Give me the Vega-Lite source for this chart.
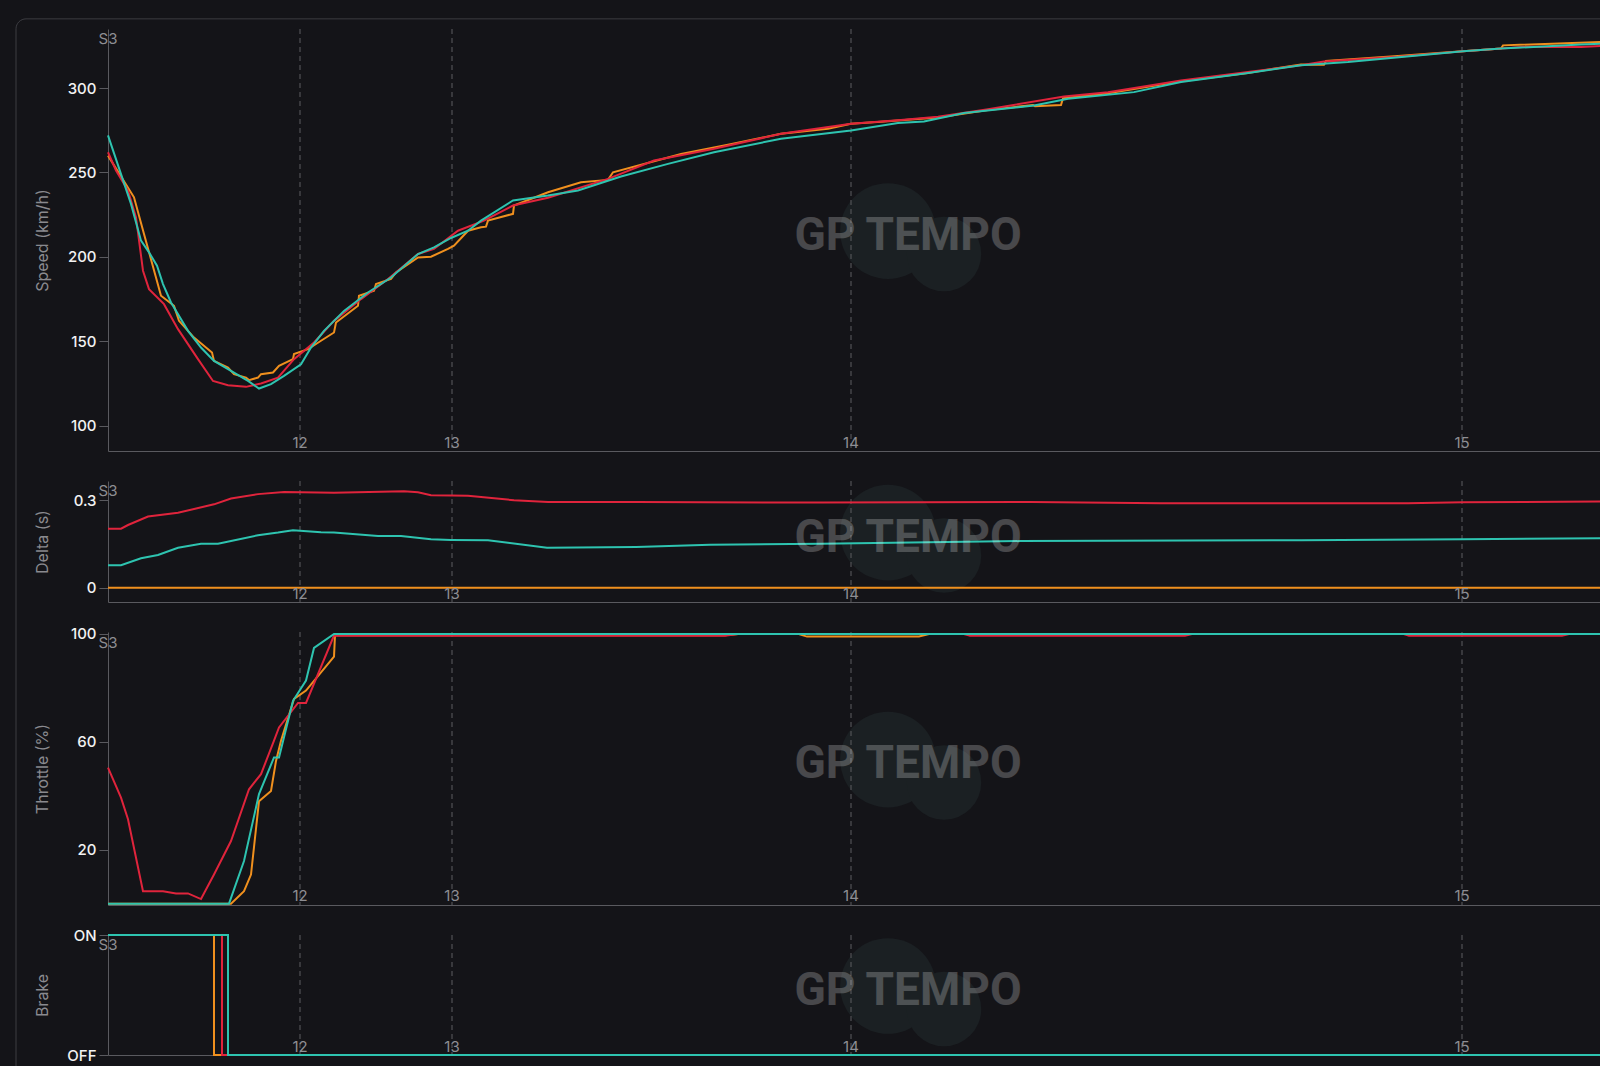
{
  "$schema": "https://vega.github.io/schema/vega-lite/v6.json",
  "background": "#141418",
  "padding": {"left": 15, "top": 18, "right": 0, "bottom": 0},
  "bounds": "flush",
  "spacing": 30,
  "config": {
    "view": {"stroke": null},
    "font": "Inter",
    "axis": {
      "domainColor": "#5a5a5f",
      "tickColor": "#5a5a5f",
      "labelColor": "#f2f2f2",
      "labelFont": "Inter",
      "labelFontSize": 15,
      "labelFontWeight": 500,
      "titleColor": "#8a8a8f",
      "titleFont": "Inter",
      "titleFontSize": 16,
      "titleFontWeight": "normal",
      "grid": false,
      "tickSize": 9,
      "labelPadding": 3
    }
  },
  "datasets": {
    "turns": [
      {"d": 192, "t": "12"},
      {"d": 344, "t": "13"},
      {"d": 743, "t": "14"},
      {"d": 1354, "t": "15"}
    ],
    "speed": [
      {"lap": "A", "d": 0, "v": 260}, {"lap": "A", "d": 26, "v": 235.3}, {"lap": "A", "d": 36, "v": 213.6}, {"lap": "A", "d": 53, "v": 177}, {"lap": "A", "d": 66, "v": 171}, {"lap": "A", "d": 71, "v": 162.1}, {"lap": "A", "d": 86, "v": 152.2}, {"lap": "A", "d": 104, "v": 143.3}, {"lap": "A", "d": 106, "v": 138.4}, {"lap": "A", "d": 120, "v": 134.4}, {"lap": "A", "d": 126, "v": 130.5}, {"lap": "A", "d": 138, "v": 128.5}, {"lap": "A", "d": 141, "v": 127}, {"lap": "A", "d": 150, "v": 128.5}, {"lap": "A", "d": 153, "v": 130.5}, {"lap": "A", "d": 165, "v": 131.5}, {"lap": "A", "d": 171, "v": 135.4}, {"lap": "A", "d": 185, "v": 139.4}, {"lap": "A", "d": 186, "v": 142.4}, {"lap": "A", "d": 200, "v": 145.3}, {"lap": "A", "d": 213, "v": 150.3}, {"lap": "A", "d": 226, "v": 155.2}, {"lap": "A", "d": 228, "v": 161.1}, {"lap": "A", "d": 250, "v": 171}, {"lap": "A", "d": 251, "v": 177}, {"lap": "A", "d": 266, "v": 179.9}, {"lap": "A", "d": 268, "v": 183.9}, {"lap": "A", "d": 283, "v": 186.9}, {"lap": "A", "d": 288, "v": 190.8}, {"lap": "A", "d": 310, "v": 199.7}, {"lap": "A", "d": 323, "v": 200.1}, {"lap": "A", "d": 340, "v": 204.7}, {"lap": "A", "d": 346, "v": 206.6}, {"lap": "A", "d": 360, "v": 215.5}, {"lap": "A", "d": 373, "v": 217.5}, {"lap": "A", "d": 378, "v": 217.9}, {"lap": "A", "d": 380, "v": 221.5}, {"lap": "A", "d": 405, "v": 225.5}, {"lap": "A", "d": 406, "v": 230.4}, {"lap": "A", "d": 440, "v": 238.3}, {"lap": "A", "d": 473, "v": 244.2}, {"lap": "A", "d": 500, "v": 245.6}, {"lap": "A", "d": 505, "v": 250.1}, {"lap": "A", "d": 573, "v": 261}, {"lap": "A", "d": 620, "v": 266.5}, {"lap": "A", "d": 673, "v": 272.9}, {"lap": "A", "d": 720, "v": 275.9}, {"lap": "A", "d": 743, "v": 278.9}, {"lap": "A", "d": 773, "v": 280}, {"lap": "A", "d": 830, "v": 282.5}, {"lap": "A", "d": 880, "v": 287}, {"lap": "A", "d": 925, "v": 290}, {"lap": "A", "d": 927, "v": 289.3}, {"lap": "A", "d": 953, "v": 290}, {"lap": "A", "d": 955, "v": 294}, {"lap": "A", "d": 1000, "v": 297}, {"lap": "A", "d": 1073, "v": 304}, {"lap": "A", "d": 1140, "v": 309}, {"lap": "A", "d": 1193, "v": 314}, {"lap": "A", "d": 1216, "v": 313.8}, {"lap": "A", "d": 1218, "v": 316}, {"lap": "A", "d": 1290, "v": 319}, {"lap": "A", "d": 1330, "v": 320.8}, {"lap": "A", "d": 1355, "v": 321.8}, {"lap": "A", "d": 1393, "v": 323.4}, {"lap": "A", "d": 1395, "v": 325.3}, {"lap": "A", "d": 1493, "v": 327.3},
      {"lap": "B", "d": 0, "v": 262}, {"lap": "B", "d": 8, "v": 251.2}, {"lap": "B", "d": 20, "v": 239.3}, {"lap": "B", "d": 28, "v": 223.4}, {"lap": "B", "d": 35, "v": 191.8}, {"lap": "B", "d": 41, "v": 180.9}, {"lap": "B", "d": 56, "v": 172}, {"lap": "B", "d": 70, "v": 157.2}, {"lap": "B", "d": 90, "v": 139.4}, {"lap": "B", "d": 105, "v": 126.5}, {"lap": "B", "d": 120, "v": 124}, {"lap": "B", "d": 138, "v": 123}, {"lap": "B", "d": 153, "v": 125}, {"lap": "B", "d": 170, "v": 128.5}, {"lap": "B", "d": 186, "v": 139.4}, {"lap": "B", "d": 206, "v": 149.3}, {"lap": "B", "d": 226, "v": 162.1}, {"lap": "B", "d": 253, "v": 175}, {"lap": "B", "d": 280, "v": 186.9}, {"lap": "B", "d": 310, "v": 201.7}, {"lap": "B", "d": 326, "v": 204.7}, {"lap": "B", "d": 350, "v": 215.5}, {"lap": "B", "d": 376, "v": 221.5}, {"lap": "B", "d": 405, "v": 230.4}, {"lap": "B", "d": 440, "v": 235}, {"lap": "B", "d": 500, "v": 246.2}, {"lap": "B", "d": 546, "v": 257.1}, {"lap": "B", "d": 606, "v": 264}, {"lap": "B", "d": 673, "v": 272.9}, {"lap": "B", "d": 743, "v": 278.9}, {"lap": "B", "d": 790, "v": 281}, {"lap": "B", "d": 830, "v": 283}, {"lap": "B", "d": 880, "v": 287.5}, {"lap": "B", "d": 956, "v": 295}, {"lap": "B", "d": 1000, "v": 297.5}, {"lap": "B", "d": 1073, "v": 304.5}, {"lap": "B", "d": 1140, "v": 309.5}, {"lap": "B", "d": 1193, "v": 313.5}, {"lap": "B", "d": 1216, "v": 315.8}, {"lap": "B", "d": 1290, "v": 318.5}, {"lap": "B", "d": 1355, "v": 321.8}, {"lap": "B", "d": 1420, "v": 324.5}, {"lap": "B", "d": 1473, "v": 324.3}, {"lap": "B", "d": 1493, "v": 325},
      {"lap": "C", "d": 0, "v": 272}, {"lap": "C", "d": 23, "v": 231.4}, {"lap": "C", "d": 33, "v": 209.6}, {"lap": "C", "d": 41, "v": 202.7}, {"lap": "C", "d": 49, "v": 194.8}, {"lap": "C", "d": 55, "v": 183.9}, {"lap": "C", "d": 63, "v": 173}, {"lap": "C", "d": 80, "v": 156.2}, {"lap": "C", "d": 93, "v": 146.3}, {"lap": "C", "d": 106, "v": 138.4}, {"lap": "C", "d": 123, "v": 132.5}, {"lap": "C", "d": 140, "v": 126.5}, {"lap": "C", "d": 151, "v": 122}, {"lap": "C", "d": 163, "v": 124.6}, {"lap": "C", "d": 176, "v": 129.5}, {"lap": "C", "d": 193, "v": 136.4}, {"lap": "C", "d": 203, "v": 146.3}, {"lap": "C", "d": 216, "v": 156.2}, {"lap": "C", "d": 236, "v": 168}, {"lap": "C", "d": 260, "v": 178.9}, {"lap": "C", "d": 283, "v": 187.8}, {"lap": "C", "d": 310, "v": 201.7}, {"lap": "C", "d": 326, "v": 205.6}, {"lap": "C", "d": 343, "v": 211.2}, {"lap": "C", "d": 360, "v": 215.5}, {"lap": "C", "d": 373, "v": 221.5}, {"lap": "C", "d": 405, "v": 233.4}, {"lap": "C", "d": 440, "v": 236.3}, {"lap": "C", "d": 470, "v": 239.3}, {"lap": "C", "d": 513, "v": 247.6}, {"lap": "C", "d": 560, "v": 255.1}, {"lap": "C", "d": 606, "v": 262}, {"lap": "C", "d": 673, "v": 270}, {"lap": "C", "d": 743, "v": 274.9}, {"lap": "C", "d": 790, "v": 279.3}, {"lap": "C", "d": 816, "v": 280.2}, {"lap": "C", "d": 856, "v": 285.2}, {"lap": "C", "d": 926, "v": 289.7}, {"lap": "C", "d": 960, "v": 293.7}, {"lap": "C", "d": 1026, "v": 297.6}, {"lap": "C", "d": 1073, "v": 303.6}, {"lap": "C", "d": 1140, "v": 308.9}, {"lap": "C", "d": 1193, "v": 313.5}, {"lap": "C", "d": 1240, "v": 315.4}, {"lap": "C", "d": 1355, "v": 321.8}, {"lap": "C", "d": 1393, "v": 323.4}, {"lap": "C", "d": 1473, "v": 325.8}, {"lap": "C", "d": 1493, "v": 326.3}
    ],
    "delta": [
      {"lap": "A", "d": 0, "v": 0}, {"lap": "A", "d": 1493, "v": 0},
      {"lap": "B", "d": 0, "v": 0.2025}, {"lap": "B", "d": 13, "v": 0.2025}, {"lap": "B", "d": 20, "v": 0.215}, {"lap": "B", "d": 40, "v": 0.244}, {"lap": "B", "d": 70, "v": 0.257}, {"lap": "B", "d": 106, "v": 0.286}, {"lap": "B", "d": 123, "v": 0.306}, {"lap": "B", "d": 150, "v": 0.321}, {"lap": "B", "d": 176, "v": 0.3285}, {"lap": "B", "d": 226, "v": 0.326}, {"lap": "B", "d": 296, "v": 0.331}, {"lap": "B", "d": 310, "v": 0.3275}, {"lap": "B", "d": 323, "v": 0.317}, {"lap": "B", "d": 343, "v": 0.316}, {"lap": "B", "d": 360, "v": 0.315}, {"lap": "B", "d": 406, "v": 0.3}, {"lap": "B", "d": 440, "v": 0.294}, {"lap": "B", "d": 528, "v": 0.294}, {"lap": "B", "d": 713, "v": 0.292}, {"lap": "B", "d": 923, "v": 0.294}, {"lap": "B", "d": 1053, "v": 0.29}, {"lap": "B", "d": 1300, "v": 0.29}, {"lap": "B", "d": 1355, "v": 0.293}, {"lap": "B", "d": 1493, "v": 0.296},
      {"lap": "C", "d": 0, "v": 0.077}, {"lap": "C", "d": 13, "v": 0.077}, {"lap": "C", "d": 33, "v": 0.101}, {"lap": "C", "d": 50, "v": 0.112}, {"lap": "C", "d": 70, "v": 0.137}, {"lap": "C", "d": 93, "v": 0.151}, {"lap": "C", "d": 110, "v": 0.151}, {"lap": "C", "d": 123, "v": 0.16}, {"lap": "C", "d": 150, "v": 0.18}, {"lap": "C", "d": 170, "v": 0.189}, {"lap": "C", "d": 185, "v": 0.197}, {"lap": "C", "d": 213, "v": 0.19}, {"lap": "C", "d": 226, "v": 0.189}, {"lap": "C", "d": 270, "v": 0.177}, {"lap": "C", "d": 293, "v": 0.177}, {"lap": "C", "d": 323, "v": 0.166}, {"lap": "C", "d": 343, "v": 0.164}, {"lap": "C", "d": 380, "v": 0.163}, {"lap": "C", "d": 439, "v": 0.137}, {"lap": "C", "d": 528, "v": 0.14}, {"lap": "C", "d": 602, "v": 0.147}, {"lap": "C", "d": 713, "v": 0.151}, {"lap": "C", "d": 913, "v": 0.16}, {"lap": "C", "d": 1193, "v": 0.163}, {"lap": "C", "d": 1355, "v": 0.166}, {"lap": "C", "d": 1493, "v": 0.17}
    ],
    "throttle": [
      {"lap": "A", "d": 0, "v": 0}, {"lap": "A", "d": 123, "v": 0}, {"lap": "A", "d": 136, "v": 4.6}, {"lap": "A", "d": 143, "v": 10.8}, {"lap": "A", "d": 151, "v": 38}, {"lap": "A", "d": 163, "v": 41.8}, {"lap": "A", "d": 168, "v": 52.9}, {"lap": "A", "d": 173, "v": 60.4}, {"lap": "A", "d": 186, "v": 75.9}, {"lap": "A", "d": 198, "v": 79}, {"lap": "A", "d": 226, "v": 91.6}, {"lap": "A", "d": 227, "v": 99.5}, {"lap": "A", "d": 617, "v": 99.5}, {"lap": "A", "d": 630, "v": 100}, {"lap": "A", "d": 690, "v": 100}, {"lap": "A", "d": 699, "v": 99}, {"lap": "A", "d": 811, "v": 99}, {"lap": "A", "d": 822, "v": 100}, {"lap": "A", "d": 1493, "v": 100},
      {"lap": "B", "d": 0, "v": 50.4}, {"lap": "B", "d": 13, "v": 39.3}, {"lap": "B", "d": 20, "v": 31.3}, {"lap": "B", "d": 35, "v": 4.6}, {"lap": "B", "d": 55, "v": 4.6}, {"lap": "B", "d": 68, "v": 3.8}, {"lap": "B", "d": 80, "v": 3.8}, {"lap": "B", "d": 93, "v": 1.7}, {"lap": "B", "d": 106, "v": 10.8}, {"lap": "B", "d": 123, "v": 23.2}, {"lap": "B", "d": 141, "v": 42.4}, {"lap": "B", "d": 153, "v": 48}, {"lap": "B", "d": 166, "v": 60.4}, {"lap": "B", "d": 171, "v": 65.3}, {"lap": "B", "d": 190, "v": 74.4}, {"lap": "B", "d": 198, "v": 74.4}, {"lap": "B", "d": 226, "v": 99.4}, {"lap": "B", "d": 617, "v": 99.3}, {"lap": "B", "d": 630, "v": 100}, {"lap": "B", "d": 855, "v": 100}, {"lap": "B", "d": 862, "v": 99.3}, {"lap": "B", "d": 1077, "v": 99.3}, {"lap": "B", "d": 1085, "v": 100}, {"lap": "B", "d": 1295, "v": 100}, {"lap": "B", "d": 1301, "v": 99.3}, {"lap": "B", "d": 1454, "v": 99.3}, {"lap": "B", "d": 1462, "v": 100}, {"lap": "B", "d": 1493, "v": 100},
      {"lap": "C", "d": 0, "v": 0}, {"lap": "C", "d": 121, "v": 0}, {"lap": "C", "d": 136, "v": 15.8}, {"lap": "C", "d": 151, "v": 40.6}, {"lap": "C", "d": 166, "v": 54.2}, {"lap": "C", "d": 171, "v": 54.2}, {"lap": "C", "d": 185, "v": 75.2}, {"lap": "C", "d": 198, "v": 82.7}, {"lap": "C", "d": 206, "v": 94.8}, {"lap": "C", "d": 226, "v": 100}, {"lap": "C", "d": 1493, "v": 100}
    ],
    "brake": [
      {"lap": "A", "d": 0, "v": 1}, {"lap": "A", "d": 106, "v": 0}, {"lap": "A", "d": 1493, "v": 0},
      {"lap": "B", "d": 0, "v": 1}, {"lap": "B", "d": 114, "v": 0}, {"lap": "B", "d": 1493, "v": 0},
      {"lap": "C", "d": 0, "v": 1}, {"lap": "C", "d": 120, "v": 0}, {"lap": "C", "d": 1493, "v": 0}
    ]
  },
  "vconcat": [
    {
      "width": 1493, "height": 422,
      "layer": [
        {"data": {"values": [{}]}, "mark": {"type": "rect", "fillOpacity": 0, "stroke": "#3c3c41", "strokeWidth": 1, "cornerRadius": 10},
         "encoding": {"x": {"datum": -92, "type": "quantitative"}, "x2": {"datum": 1515}, "y": {"datum": 341, "type": "quantitative"}, "y2": {"datum": -300}}},
        {"data": {"values": [{}]}, "mark": {"type": "circle", "size": 9161, "color": "#1b2023", "opacity": 1},
         "encoding": {"x": {"datum": 780, "type": "quantitative"}, "y": {"datum": 215.3, "type": "quantitative"}}},
        {"data": {"values": [{}]}, "mark": {"type": "circle", "size": 5542, "color": "#1b2023", "opacity": 1},
         "encoding": {"x": {"datum": 836, "type": "quantitative"}, "y": {"datum": 201.7, "type": "quantitative"}}},
        {"data": {"name": "turns"}, "mark": {"type": "rule", "color": "#5c5c61", "strokeDash": [5, 4], "strokeWidth": 1},
         "encoding": {"x": {"field": "d", "type": "quantitative", "title": null}}},
        {"data": {"name": "speed"}, "mark": {"type": "line", "strokeWidth": 2},
         "encoding": {
           "x": {"field": "d", "type": "quantitative", "title": null, "scale": {"domain": [0, 1493], "nice": false, "zero": false}, "axis": {"labels": false, "ticks": false, "title": null}},
           "y": {"field": "v", "type": "quantitative", "scale": {"domain": [85, 335], "nice": false, "zero": false}, "axis": {"values": [100, 150, 200, 250, 300], "title": "Speed (km/h)", "titleX": -58, "titleY": 211}},
           "color": {"field": "lap", "type": "nominal", "scale": {"domain": ["A", "B", "C"], "range": ["#f0901e", "#e0243c", "#2ec4b0"]}, "legend": null}
         }},
        {"data": {"name": "turns"}, "mark": {"type": "text", "color": "#8e8e93", "fontSize": 15, "baseline": "middle", "align": "center"},
         "encoding": {"x": {"field": "d", "type": "quantitative", "title": null}, "y": {"datum": 90, "type": "quantitative"}, "text": {"field": "t"}}},
        {"data": {"values": [{}]}, "mark": {"type": "text", "text": "S3", "color": "#8e8e93", "fontSize": 15, "baseline": "middle", "align": "center"},
         "encoding": {"x": {"datum": 0, "type": "quantitative"}, "y": {"datum": 329, "type": "quantitative"}}},
        {"data": {"values": [{}]}, "mark": {"type": "text", "text": "GP TEMPO", "font": "Roboto", "fontWeight": "bold", "fontSize": 46, "color": "#ffffff", "opacity": 0.22, "baseline": "middle", "align": "center"},
         "encoding": {"x": {"datum": 800, "type": "quantitative"}, "y": {"datum": 212.4, "type": "quantitative"}}}
      ]
    },
    {
      "width": 1493, "height": 121,
      "layer": [
        {"data": {"values": [{}]}, "mark": {"type": "circle", "size": 9161, "color": "#1b2023", "opacity": 1},
         "encoding": {"x": {"datum": 780, "type": "quantitative"}, "y": {"datum": 0.189, "type": "quantitative"}}},
        {"data": {"values": [{}]}, "mark": {"type": "circle", "size": 5542, "color": "#1b2023", "opacity": 1},
         "encoding": {"x": {"datum": 836, "type": "quantitative"}, "y": {"datum": 0.1105, "type": "quantitative"}}},
        {"data": {"name": "turns"}, "mark": {"type": "rule", "color": "#5c5c61", "strokeDash": [5, 4], "strokeWidth": 1},
         "encoding": {"x": {"field": "d", "type": "quantitative", "title": null}}},
        {"data": {"name": "delta"}, "mark": {"type": "line", "strokeWidth": 2},
         "encoding": {
           "x": {"field": "d", "type": "quantitative", "title": null, "scale": {"domain": [0, 1493], "nice": false, "zero": false}, "axis": {"labels": false, "ticks": false, "title": null}},
           "y": {"field": "v", "type": "quantitative", "scale": {"domain": [-0.049, 0.366], "nice": false, "zero": false}, "axis": {"values": [0, 0.3], "format": "~g", "title": "Delta (s)", "titleX": -58, "titleY": 60.5}},
           "color": {"field": "lap", "type": "nominal", "scale": {"domain": ["A", "B", "C"], "range": ["#f0901e", "#e0243c", "#2ec4b0"]}, "legend": null}
         }},
        {"data": {"name": "turns"}, "mark": {"type": "text", "color": "#8e8e93", "fontSize": 15, "baseline": "middle", "align": "center"},
         "encoding": {"x": {"field": "d", "type": "quantitative", "title": null}, "y": {"datum": -0.0199, "type": "quantitative"}, "text": {"field": "t"}}},
        {"data": {"values": [{}]}, "mark": {"type": "text", "text": "S3", "color": "#8e8e93", "fontSize": 15, "baseline": "middle", "align": "center"},
         "encoding": {"x": {"datum": 0, "type": "quantitative"}, "y": {"datum": 0.33, "type": "quantitative"}}},
        {"data": {"values": [{}]}, "mark": {"type": "text", "text": "GP TEMPO", "font": "Roboto", "fontWeight": "bold", "fontSize": 46, "color": "#ffffff", "opacity": 0.22, "baseline": "middle", "align": "center"},
         "encoding": {"x": {"datum": 800, "type": "quantitative"}, "y": {"datum": 0.172, "type": "quantitative"}}}
      ]
    },
    {
      "width": 1493, "height": 273,
      "layer": [
        {"data": {"values": [{}]}, "mark": {"type": "circle", "size": 9161, "color": "#1b2023", "opacity": 1},
         "encoding": {"x": {"datum": 780, "type": "quantitative"}, "y": {"datum": 53.4, "type": "quantitative"}}},
        {"data": {"values": [{}]}, "mark": {"type": "circle", "size": 5542, "color": "#1b2023", "opacity": 1},
         "encoding": {"x": {"datum": 836, "type": "quantitative"}, "y": {"datum": 44.9, "type": "quantitative"}}},
        {"data": {"name": "turns"}, "mark": {"type": "rule", "color": "#5c5c61", "strokeDash": [5, 4], "strokeWidth": 1},
         "encoding": {"x": {"field": "d", "type": "quantitative", "title": null}}},
        {"data": {"name": "throttle"}, "mark": {"type": "line", "strokeWidth": 2},
         "encoding": {
           "x": {"field": "d", "type": "quantitative", "title": null, "scale": {"domain": [0, 1493], "nice": false, "zero": false}, "axis": {"labels": false, "ticks": false, "title": null}},
           "y": {"field": "v", "type": "quantitative", "scale": {"domain": [-0.5, 100.7], "nice": false, "zero": false}, "axis": {"values": [20, 60, 100], "title": "Throttle (%)", "titleX": -58, "titleY": 136.5}},
           "color": {"field": "lap", "type": "nominal", "scale": {"domain": ["A", "B", "C"], "range": ["#f0901e", "#e0243c", "#2ec4b0"]}, "legend": null}
         }},
        {"data": {"name": "turns"}, "mark": {"type": "text", "color": "#8e8e93", "fontSize": 15, "baseline": "middle", "align": "center"},
         "encoding": {"x": {"field": "d", "type": "quantitative", "title": null}, "y": {"datum": 2.8, "type": "quantitative"}, "text": {"field": "t"}}},
        {"data": {"values": [{}]}, "mark": {"type": "text", "text": "S3", "color": "#8e8e93", "fontSize": 15, "baseline": "middle", "align": "center"},
         "encoding": {"x": {"datum": 0, "type": "quantitative"}, "y": {"datum": 96.8, "type": "quantitative"}}},
        {"data": {"values": [{}]}, "mark": {"type": "text", "text": "GP TEMPO", "font": "Roboto", "fontWeight": "bold", "fontSize": 46, "color": "#ffffff", "opacity": 0.22, "baseline": "middle", "align": "center"},
         "encoding": {"x": {"datum": 800, "type": "quantitative"}, "y": {"datum": 51.6, "type": "quantitative"}}}
      ]
    },
    {
      "width": 1493, "height": 120,
      "layer": [
        {"data": {"values": [{}]}, "mark": {"type": "circle", "size": 9161, "color": "#1b2023", "opacity": 1},
         "encoding": {"x": {"datum": 780, "type": "quantitative"}, "y": {"datum": 0.575, "type": "quantitative"}}},
        {"data": {"values": [{}]}, "mark": {"type": "circle", "size": 5542, "color": "#1b2023", "opacity": 1},
         "encoding": {"x": {"datum": 836, "type": "quantitative"}, "y": {"datum": 0.383, "type": "quantitative"}}},
        {"data": {"name": "turns"}, "mark": {"type": "rule", "color": "#5c5c61", "strokeDash": [5, 4], "strokeWidth": 1},
         "encoding": {"x": {"field": "d", "type": "quantitative", "title": null}}},
        {"data": {"name": "brake"}, "mark": {"type": "line", "strokeWidth": 2, "interpolate": "step-after"},
         "encoding": {
           "x": {"field": "d", "type": "quantitative", "title": null, "scale": {"domain": [0, 1493], "nice": false, "zero": false}, "axis": {"labels": false, "ticks": false, "title": null}},
           "y": {"field": "v", "type": "quantitative", "scale": {"domain": [0, 1], "nice": false, "zero": false}, "axis": {"values": [0, 1], "labelExpr": "datum.value == 1 ? 'ON' : 'OFF'", "title": "Brake", "titleX": -58, "titleY": 60}},
           "color": {"field": "lap", "type": "nominal", "scale": {"domain": ["A", "B", "C"], "range": ["#f0901e", "#e0243c", "#2ec4b0"]}, "legend": null}
         }},
        {"data": {"name": "turns"}, "mark": {"type": "text", "color": "#8e8e93", "fontSize": 15, "baseline": "middle", "align": "center"},
         "encoding": {"x": {"field": "d", "type": "quantitative", "title": null}, "y": {"datum": 0.067, "type": "quantitative"}, "text": {"field": "t"}}},
        {"data": {"values": [{}]}, "mark": {"type": "text", "text": "S3", "color": "#8e8e93", "fontSize": 15, "baseline": "middle", "align": "center"},
         "encoding": {"x": {"datum": 0, "type": "quantitative"}, "y": {"datum": 0.917, "type": "quantitative"}}},
        {"data": {"values": [{}]}, "mark": {"type": "text", "text": "GP TEMPO", "font": "Roboto", "fontWeight": "bold", "fontSize": 46, "color": "#ffffff", "opacity": 0.22, "baseline": "middle", "align": "center"},
         "encoding": {"x": {"datum": 800, "type": "quantitative"}, "y": {"datum": 0.533, "type": "quantitative"}}}
      ]
    }
  ]
}
